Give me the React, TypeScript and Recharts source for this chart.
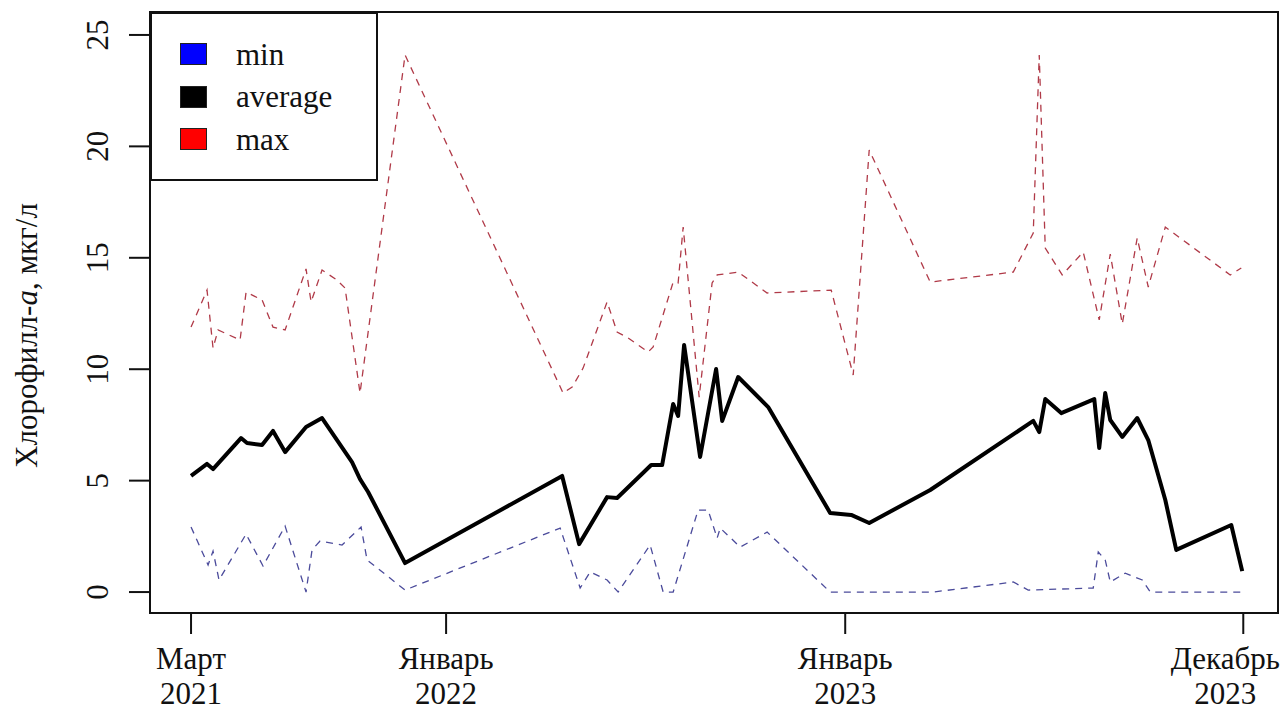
import React from 'react';
import { LineChart, Line, XAxis, YAxis, ReferenceArea } from 'recharts';

const SERIF = '"Liberation Serif", "Times New Roman", serif';

// position on the time axis: 0 = март 2021, 100 = декабрь 2023 (axis is not linear in days)
const tickPos = [0, 24.24, 62.17, 100];
const tickMonths = ['Март', 'Январь', 'Январь', 'Декабрь'];
const tickYears = ['2021', '2022', '2023', '2023'];
const yTicks = [0, 5, 10, 15, 20, 25];

const seriesNames = ['min', 'average', 'max'];
const legendColors = ['#0000ff', '#000000', '#ff0000'];

const tAvg = [0, 1.52, 2.09, 4.75, 5.32, 6.75, 7.79, 8.94, 10.93, 12.45, 15.3, 16.06, 16.83, 20.34,
  35.27, 36.88, 39.54, 40.49, 43.73, 44.77, 45.82, 46.29, 46.86, 48.38, 49.9, 50.48, 52.0, 54.85,
  60.74, 62.74, 64.45, 70.25, 80.04, 80.61, 81.18, 82.7, 85.84, 86.31, 86.88, 87.36, 88.5, 89.92,
  90.97, 92.59, 93.63, 98.86, 99.9];
const vAvg = [5.21, 5.75, 5.52, 6.91, 6.69, 6.6, 7.23, 6.28, 7.41, 7.81, 5.83, 5.07, 4.49, 1.3,
  5.21, 2.15, 4.26, 4.22, 5.7, 5.7, 8.44, 7.9, 11.09, 6.06, 10.01, 7.68, 9.65, 8.3,
  3.55, 3.46, 3.1, 4.58, 7.68, 7.18, 8.66, 8.03, 8.66, 6.46, 8.93, 7.72, 6.96, 7.81,
  6.82, 4.13, 1.89, 3.01, 0.94];

const tMax = [0, 1.52, 2.09, 2.57, 4.66, 5.23, 6.75, 7.79, 8.94, 10.93, 11.41, 12.45, 13.88, 14.64,
  16.06, 20.34, 35.36, 36.22, 37.26, 39.54, 40.49, 41.54, 43.44, 43.92, 45.82, 46.29, 46.77, 48.29,
  49.52, 50.0, 52.0, 54.75, 60.84, 62.93, 64.45, 70.25, 78.14, 80.04, 80.61, 81.18, 82.79, 84.79,
  86.31, 87.36, 88.5, 89.92, 90.97, 92.59, 98.76, 99.81];
const vMax = [11.89, 13.55, 10.95, 11.76, 11.31, 13.46, 13.11, 11.89, 11.76, 14.5, 13.02, 14.45, 14.0, 13.64,
  8.93, 24.1, 8.93, 9.2, 10.05, 13.02, 11.67, 11.4, 10.77, 11.0, 13.91, 13.87, 16.38, 8.75,
  13.87, 14.23, 14.36, 13.42, 13.55, 9.74, 19.84, 13.91, 14.36, 16.11, 24.1, 15.44, 14.23, 15.26,
  12.21, 15.17, 12.03, 15.89, 13.69, 16.38, 14.23, 14.54];

const tMin = [0, 1.62, 2.09, 2.66, 5.23, 6.84, 8.94, 10.93, 11.5, 12.26, 14.35, 16.16, 16.73, 20.34,
  35.08, 36.98, 37.93, 39.54, 40.59, 43.63, 44.87, 45.82, 48.19, 49.14, 50.0, 50.29, 52.19, 54.75,
  60.74, 70.53, 78.14, 79.56, 85.74, 86.22, 86.88, 87.36, 88.78, 90.4, 91.16, 99.9];
const vMin = [2.92, 1.21, 1.84, 0.54, 2.6, 1.17, 2.96, 0.0, 1.89, 2.29, 2.11, 2.92, 1.44, 0.09,
  2.87, 0.18, 0.9, 0.54, 0.0, 2.11, 0.0, 0.0, 3.68, 3.68, 2.42, 2.87, 2.02, 2.69,
  0.0, 0.0, 0.45, 0.09, 0.18, 1.8, 1.44, 0.45, 0.85, 0.54, 0.0, 0.0];

const avgData = tAvg.map((t, i) => ({ t, v: vAvg[i] }));
const maxData = tMax.map((t, i) => ({ t, v: vMax[i] }));
const minData = tMin.map((t, i) => ({ t, v: vMin[i] }));

const X_DOMAIN: [number, number] = [-3.9, 103.3];
const Y_DOMAIN: [number, number] = [-0.94, 26.03];

function XTick(props: any) {
  const { x, y, index } = props;
  // last label is pulled left so it stays inside the figure
  const cx = index === tickPos.length - 1 ? x - 18 : x;
  return (
    <text x={cx} y={y} textAnchor="middle" fontFamily={SERIF} fontSize={31} fill="#111">
      <tspan x={cx} dy={33}>{tickMonths[index]}</tspan>
      <tspan x={cx} dy={35}>{tickYears[index]}</tspan>
    </text>
  );
}

function YTick(props: any) {
  const { x, y, payload } = props;
  const bx = x - 19;
  return (
    <text x={bx} y={y} transform={`rotate(-90 ${bx} ${y})`} textAnchor="middle"
      fontFamily={SERIF} fontSize={31} fill="#111">
      {payload.value}
    </text>
  );
}

function YTitle(props: any) {
  const { viewBox } = props;
  const cy = viewBox.y + viewBox.height / 2 + 23;
  const bx = 37;
  return (
    <text x={bx} y={cy} transform={`rotate(-90 ${bx} ${cy})`} textAnchor="middle"
      fontFamily={SERIF} fontSize={31} fill="#111">
      Хлорофилл-<tspan fontStyle="italic">а</tspan>, мкг/л
    </text>
  );
}

export default function App() {
  return (
    <div style={{ position: 'absolute', left: 0, top: 0, width: 1282, height: 711, background: '#fff' }}>
      <LineChart width={1282} height={711} data={avgData} margin={{ top: 12, right: 4, bottom: 0, left: 0 }}>
        <XAxis type="number" dataKey="t" domain={X_DOMAIN} ticks={tickPos} interval={0}
          allowDataOverflow height={98} tickSize={21} axisLine={false}
          tickLine={{ stroke: '#111', strokeWidth: 2 }} tick={<XTick />} />
        <YAxis type="number" domain={Y_DOMAIN} ticks={yTicks} interval={0} allowDataOverflow
          width={150} tickSize={21} axisLine={false}
          tickLine={{ stroke: '#111', strokeWidth: 2 }} tick={<YTick />} label={<YTitle />} />
        <ReferenceArea x1={X_DOMAIN[0]} x2={X_DOMAIN[1]} y1={Y_DOMAIN[0]} y2={Y_DOMAIN[1]}
          fill="none" stroke="#111" strokeWidth={2} />
        <Line data={maxData} dataKey="v" type="linear" stroke="#b03a48" strokeWidth={1.3}
          strokeDasharray="7 6" dot={false} isAnimationActive={false} />
        <Line data={minData} dataKey="v" type="linear" stroke="#4b4b9b" strokeWidth={1.3}
          strokeDasharray="7 6" dot={false} isAnimationActive={false} />
        <Line data={avgData} dataKey="v" type="linear" stroke="#000" strokeWidth={4}
          strokeLinejoin="round" dot={false} isAnimationActive={false} />
      </LineChart>

      {/* legend, top-left corner of the plot box */}
      <div style={{
        position: 'absolute', left: 150, top: 12, width: 228, height: 169, boxSizing: 'border-box',
        border: '2px solid #111', background: '#fff', paddingTop: 19, fontFamily: SERIF, fontSize: 31,
      }}>
        {seriesNames.map((name, i) => (
          <div key={name} style={{ display: 'flex', alignItems: 'center', height: 42.5, lineHeight: 1 }}>
            <div style={{ marginLeft: 28, width: 27, height: 22, boxSizing: 'border-box',
              background: legendColors[i], border: '1px solid #222' }} />
            <span style={{ marginLeft: 29, color: '#111' }}>{name}</span>
          </div>
        ))}
      </div>
    </div>
  );
}
